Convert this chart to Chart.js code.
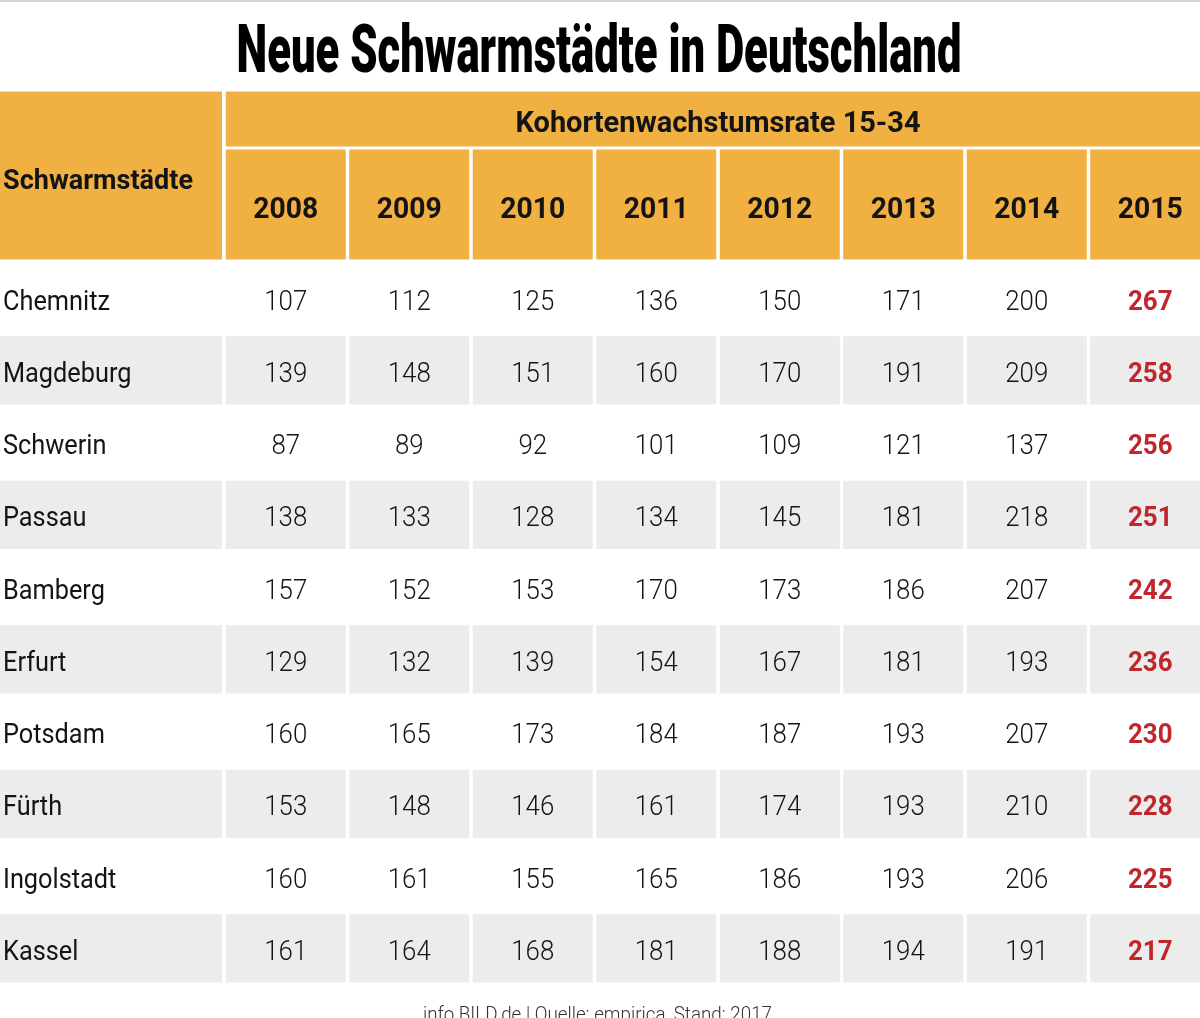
<!DOCTYPE html>
<html lang="de">
<head>
<meta charset="utf-8">
<title>Neue Schwarmstädte in Deutschland</title>
<script src="https://cdn.jsdelivr.net/npm/chart.js@4.4.1/dist/chart.umd.min.js"></script>
<style>
  html, body { margin: 0; padding: 0; background: #fff; overflow: hidden; }
  #wrap { width: 1200px; height: 1018px; overflow: hidden; }
</style>
</head>
<body>
<div id="wrap"><canvas id="myChart" width="1212" height="1018"></canvas></div>
<script>
// Daten der Tabelle
var staedte = ['Chemnitz', 'Magdeburg', 'Schwerin', 'Passau', 'Bamberg', 'Erfurt', 'Potsdam', 'Fürth', 'Ingolstadt', 'Kassel'];
var jahre = ['2008', '2009', '2010', '2011', '2012', '2013', '2014', '2015'];

var w2008 = [107, 139, 87, 138, 157, 129, 160, 153, 160, 161];
var w2009 = [112, 148, 89, 133, 152, 132, 165, 148, 161, 164];
var w2010 = [125, 151, 92, 128, 153, 139, 173, 146, 155, 168];
var w2011 = [136, 160, 101, 134, 170, 154, 184, 161, 165, 181];
var w2012 = [150, 170, 109, 145, 173, 167, 187, 174, 186, 188];
var w2013 = [171, 191, 121, 181, 186, 181, 193, 193, 193, 194];
var w2014 = [200, 209, 137, 218, 207, 193, 207, 210, 206, 191];
var w2015 = [267, 258, 256, 251, 242, 236, 230, 228, 225, 217];
var werte = [w2008, w2009, w2010, w2011, w2012, w2013, w2014, w2015];

var titel = 'Neue Schwarmstädte in Deutschland';
var kopfText = 'Kohortenwachstumsrate 15-34';
var ersteSpalte = 'Schwarmstädte';
var quelle = 'info.BILD.de | Quelle: empirica, Stand: 2017';

// Farben und Schrift
var orange = '#F0B142';
var grau = '#ECECEC';
var rot = '#C0272D';
var schwarz = '#141414';
var schrift = 'Roboto, "Liberation Sans", sans-serif';

// Faktor, um die Schrift schmaler zu machen (wie die Vorlage)
function stauchung(ctx, font, muster, breite) {
    ctx.font = font;
    return breite / ctx.measureText(muster).width;
}

function schreibe(ctx, s, x, y, font, farbe, align, sx) {
    ctx.save();
    ctx.font = font;
    ctx.fillStyle = farbe;
    ctx.textBaseline = 'alphabetic';
    ctx.textAlign = align;
    ctx.translate(x, y);
    ctx.scale(sx, 1);
    ctx.fillText(s, 0, 0);
    ctx.restore();
}

// Plugin: zeichnet Kopf, Zellen und Zahlen über die Skalen
var tabelle = {
    id: 'tabelle',
    beforeDraw: function (chart) {
        var ctx = chart.ctx;
        var x = chart.scales.x;
        var y = chart.scales.y;
        var area = chart.chartArea;
        var sw = Math.abs(x.getPixelForValue(1) - x.getPixelForValue(0));
        var zh = Math.abs(y.getPixelForValue(1) - y.getPixelForValue(0));
        var g = 1.75;

        ctx.save();
        ctx.fillStyle = '#fff';
        ctx.fillRect(0, 0, chart.width, chart.height);
        ctx.fillStyle = '#d4d4d4';
        ctx.fillRect(0, 0, chart.width, 2);

        // Kopfbereich
        ctx.fillStyle = orange;
        ctx.fillRect(0, 91.5, area.left - 2, 168);
        ctx.fillRect(area.left + g, 91.5, area.right - area.left - g, 55);
        jahre.forEach(function (j, i) {
            var cx = x.getPixelForValue(i);
            ctx.fillRect(cx - sw / 2 + g, 149.5, sw - 2 * g, 110);
        });

        // graue Zeilen
        ctx.fillStyle = grau;
        staedte.forEach(function (s, r) {
            if (r % 2 === 1) {
                var cy = y.getPixelForValue(r);
                ctx.fillRect(0, cy - zh / 2 + 1.5, area.left - 2, zh - 4);
                jahre.forEach(function (j, i) {
                    var cx = x.getPixelForValue(i);
                    ctx.fillRect(cx - sw / 2 + g, cy - zh / 2 + 1.5, sw - 2 * g, zh - 4);
                });
            }
        });
        ctx.restore();

        // Texte
        var fTitel = '900 66px ' + schrift;
        schreibe(ctx, titel, 599, 72, fTitel, '#000', 'center', stauchung(ctx, fTitel, titel, 725));

        var fKopf = 'bold 30px ' + schrift;
        schreibe(ctx, kopfText, (area.left + area.right) / 2, 131.5, fKopf, schwarz, 'center', stauchung(ctx, fKopf, kopfText, 405));

        var fSpalte = 'bold 28px ' + schrift;
        schreibe(ctx, ersteSpalte, 3, 189, fSpalte, schwarz, 'left', stauchung(ctx, fSpalte, ersteSpalte, 190));

        var fJahr = 'bold 30px ' + schrift;
        var sJahr = stauchung(ctx, fJahr, '2008', 65);
        jahre.forEach(function (j, i) {
            schreibe(ctx, j, x.getPixelForValue(i), 218, fJahr, schwarz, 'center', sJahr);
        });

        var fStadt = '400 28px ' + schrift;
        var sStadt = stauchung(ctx, fStadt, 'Chemnitz', 107);
        var fZahl = '300 28px ' + schrift;
        var sZahl = stauchung(ctx, fZahl, '200', 43);
        var fRot = 'bold 28px ' + schrift;
        var sRot = stauchung(ctx, fRot, '267', 44.6);

        staedte.forEach(function (s, r) {
            var cy = y.getPixelForValue(r) + 11;
            schreibe(ctx, s, 3, cy, fStadt, schwarz, 'left', sStadt);
            werte.forEach(function (spalte, i) {
                var letzte = i === werte.length - 1;
                schreibe(ctx, String(spalte[r]), x.getPixelForValue(i), cy,
                    letzte ? fRot : fZahl, letzte ? rot : schwarz, 'center', letzte ? sRot : sZahl);
            });
        });

        var fQuelle = '300 20px ' + schrift;
        schreibe(ctx, quelle, 597.5, 1021, fQuelle, '#333', 'center', stauchung(ctx, fQuelle, quelle, 349));
    }
};

var ctx = document.getElementById('myChart').getContext('2d');
var myChart = new Chart(ctx, {
    type: 'bar',
    data: {
        labels: jahre,
        datasets: []
    },
    options: {
        responsive: false,
        animation: false,
        devicePixelRatio: 1,
        layout: {
            padding: { left: 224, top: 262.5, right: 0, bottom: 33 }
        },
        plugins: {
            legend: { display: false },
            tooltip: { enabled: false },
            title: { display: false }
        },
        scales: {
            x: { type: 'category', labels: jahre, offset: true, display: false },
            y: { type: 'category', labels: staedte, offset: true, display: false }
        }
    },
    plugins: [tabelle]
});
</script>
</body>
</html>
